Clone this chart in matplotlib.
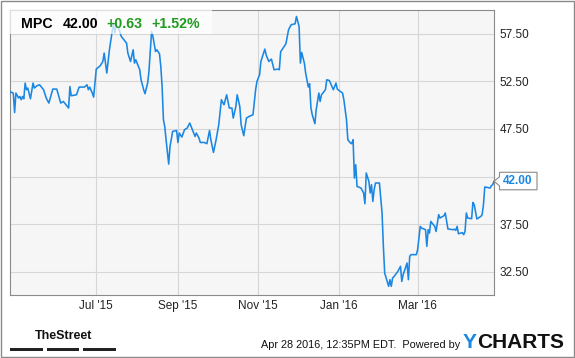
import matplotlib
matplotlib.use("Agg")
import matplotlib.pyplot as plt
import matplotlib.dates as mdates
from matplotlib.patches import Rectangle, Polygon
from matplotlib.transforms import IdentityTransform
import pandas as pd

plt.rcParams['font.family'] = ['Liberation Sans', 'DejaVu Sans']

# ---------------- data ----------------
ticker = "MPC"
last_price_text = "42.00"
change_text = "+0.63"
change_pct_text = "+1.52%"
timestamp_text = "Apr 28 2016, 12:35PM EDT.  Powered by"

dates = [
    "2015-04-27", "2015-04-29", "2015-04-30", "2015-05-01", "2015-05-03", "2015-05-04",
    "2015-05-05", "2015-05-06", "2015-05-07", "2015-05-08", "2015-05-09", "2015-05-10",
    "2015-05-12", "2015-05-14", "2015-05-15", "2015-05-17", "2015-05-19", "2015-05-22",
    "2015-05-24", "2015-05-26", "2015-05-29", "2015-06-01", "2015-06-04", "2015-06-06",
    "2015-06-08", "2015-06-10", "2015-06-11", "2015-06-12", "2015-06-16", "2015-06-18",
    "2015-06-22", "2015-06-24", "2015-06-25", "2015-06-26", "2015-06-28", "2015-06-29",
    "2015-07-01", "2015-07-04", "2015-07-06", "2015-07-07", "2015-07-09", "2015-07-11",
    "2015-07-13", "2015-07-14", "2015-07-15", "2015-07-16", "2015-07-18", "2015-07-20",
    "2015-07-22", "2015-07-24", "2015-07-25", "2015-07-27", "2015-07-29", "2015-07-30",
    "2015-07-31", "2015-08-03", "2015-08-04", "2015-08-06", "2015-08-07", "2015-08-09",
    "2015-08-10", "2015-08-12", "2015-08-13", "2015-08-15", "2015-08-16", "2015-08-18",
    "2015-08-19", "2015-08-20", "2015-08-21", "2015-08-22", "2015-08-23", "2015-08-25",
    "2015-08-26", "2015-08-28", "2015-08-31", "2015-09-01", "2015-09-02", "2015-09-04",
    "2015-09-06", "2015-09-08", "2015-09-10", "2015-09-12", "2015-09-14", "2015-09-15",
    "2015-09-17", "2015-09-18", "2015-09-21", "2015-09-23", "2015-09-25", "2015-09-26",
    "2015-09-28", "2015-09-30", "2015-10-02", "2015-10-04", "2015-10-06", "2015-10-08",
    "2015-10-10", "2015-10-12", "2015-10-13", "2015-10-15", "2015-10-16", "2015-10-18",
    "2015-10-19", "2015-10-21", "2015-10-23", "2015-10-25", "2015-10-28", "2015-10-30",
    "2015-10-31", "2015-11-02", "2015-11-03", "2015-11-05", "2015-11-06", "2015-11-07",
    "2015-11-09", "2015-11-11", "2015-11-13", "2015-11-16", "2015-11-17", "2015-11-18",
    "2015-11-19", "2015-11-22", "2015-11-24", "2015-11-26", "2015-11-29", "2015-11-30",
    "2015-12-02", "2015-12-03", "2015-12-04", "2015-12-06", "2015-12-07", "2015-12-09",
    "2015-12-10", "2015-12-11", "2015-12-12", "2015-12-14", "2015-12-15", "2015-12-17",
    "2015-12-18", "2015-12-19", "2015-12-22", "2015-12-23", "2015-12-25", "2015-12-27",
    "2015-12-28", "2015-12-30", "2015-12-31", "2016-01-04", "2016-01-05", "2016-01-07",
    "2016-01-08", "2016-01-10", "2016-01-11", "2016-01-12", "2016-01-13", "2016-01-14",
    "2016-01-15", "2016-01-18", "2016-01-20", "2016-01-21", "2016-01-22", "2016-01-24",
    "2016-01-25", "2016-01-26", "2016-01-27", "2016-01-28", "2016-01-29", "2016-02-01",
    "2016-02-03", "2016-02-04", "2016-02-05", "2016-02-08", "2016-02-09", "2016-02-10",
    "2016-02-11", "2016-02-12", "2016-02-15", "2016-02-17", "2016-02-18", "2016-02-19",
    "2016-02-22", "2016-02-23", "2016-02-24", "2016-02-25", "2016-02-29", "2016-03-01",
    "2016-03-03", "2016-03-04", "2016-03-07", "2016-03-08", "2016-03-09", "2016-03-10",
    "2016-03-11", "2016-03-14", "2016-03-15", "2016-03-17", "2016-03-18", "2016-03-21",
    "2016-03-22", "2016-03-24", "2016-03-28", "2016-03-29", "2016-03-30", "2016-03-31",
    "2016-04-01", "2016-04-04", "2016-04-05", "2016-04-06", "2016-04-07", "2016-04-08",
    "2016-04-11", "2016-04-12", "2016-04-13", "2016-04-15", "2016-04-18", "2016-04-19",
    "2016-04-20", "2016-04-21", "2016-04-22", "2016-04-25", "2016-04-26", "2016-04-27",
    "2016-04-28",
]

prices = [
    51.38, 51.27, 49.23, 51.27, 50.75, 50.91,
    50.57, 50.91, 50.67, 52.32, 51.62, 51.80,
    50.67, 52.32, 51.80, 52.04, 52.14, 51.62,
    50.75, 50.22, 51.69, 51.69, 50.22, 50.39,
    50.04, 49.70, 51.96, 50.99, 51.09, 51.90,
    51.90, 52.14, 51.62, 51.90, 51.27, 50.85,
    53.79, 54.14, 54.59, 55.47, 53.37, 55.82,
    57.74, 58.62, 57.57, 58.27, 58.10, 57.22,
    56.87, 56.52, 55.47, 54.59, 55.82, 54.42,
    54.77, 53.72, 52.67, 51.62, 51.20, 52.32,
    53.54, 57.74, 57.22, 55.64, 55.82, 55.40,
    54.07, 51.96, 48.47, 47.76, 46.37, 43.81,
    45.66, 47.24, 47.34, 46.08, 47.07, 46.65,
    47.42, 47.59, 48.12, 47.42, 46.71, 47.07,
    46.54, 46.08, 46.08, 45.95, 47.34, 46.37,
    45.03, 46.37, 47.94, 50.57, 50.04, 51.09,
    49.70, 49.70, 48.64, 49.86, 51.09, 49.86,
    47.94, 46.79, 48.64, 48.81, 48.99, 51.62,
    52.49, 53.19, 54.59, 55.47, 55.89, 55.29,
    54.59, 54.84, 53.72, 53.79, 53.72, 55.61,
    55.82, 56.45, 57.92, 58.45, 58.55, 59.32,
    58.27, 54.42, 55.54, 54.42, 53.37, 51.90,
    52.25, 49.70, 48.99, 48.05, 49.52, 51.27,
    50.39, 51.09, 51.62, 52.67, 52.59, 51.96,
    51.62, 52.32, 51.69, 51.27, 50.57, 48.47,
    46.37, 46.02, 45.95, 46.37, 42.34, 43.74,
    41.46, 41.29, 40.77, 39.64, 42.87, 41.99,
    40.77, 41.64, 39.88, 41.11, 41.82, 41.82,
    38.67, 35.16, 32.36, 30.96, 31.66, 30.96,
    31.84, 31.97, 32.53, 33.06, 31.48, 32.18,
    33.41, 31.66, 34.11, 34.29, 34.29, 34.81,
    37.26, 37.09, 36.91, 35.16, 36.91, 36.56,
    37.78, 37.26, 36.73, 38.49, 38.14, 38.38,
    38.67, 36.99, 36.91, 36.97, 36.84, 37.26,
    36.49, 36.60, 36.39, 36.73, 38.67, 38.14,
    38.07, 39.78, 39.54, 38.04, 38.31, 38.49,
    39.54, 41.40, 41.38, 41.29, 41.53, 41.64,
    42.00,
]

y_ticks = [32.5, 37.5, 42.5, 47.5, 52.5, 57.5]
y_tick_labels = ["32.50", "37.50", "", "47.50", "52.50", "57.50"]  # 42.50 is hidden behind the price tag
x_tick_dates = ["2015-07-01", "2015-09-01", "2015-11-01", "2016-01-01", "2016-03-01"]
x_tick_labels = ["Jul '15", "Sep '15", "Nov '15", "Jan '16", "Mar '16"]

# ---------------- styling ----------------
W, H = 575, 358
BLUE = '#1a87e3'
GREEN = '#1f9c1f'
FRAME = '#8a8a8a'

fig = plt.figure(figsize=(W / 100, H / 100), dpi=100)
fig.patch.set_facecolor('white')


def fx(x):
    return x / W


def fy(y):
    return 1 - y / H


ax = fig.add_axes([fx(10), fy(295), 484 / W, 285 / H])
ax.set_facecolor('#f6f6f6')

d = pd.to_datetime(dates)
ax.plot(d, prices, color=BLUE, lw=1.15, zorder=3, solid_joinstyle='round')

ax.set_xlim(pd.Timestamp('2015-04-26 12:00'), pd.Timestamp('2016-04-28'))
ax.set_ylim(30.05, 60.0)

ax.yaxis.tick_right()
ax.set_yticks(y_ticks)
ax.set_yticklabels(y_tick_labels)
ax.set_xticks(pd.to_datetime(x_tick_dates))
ax.set_xticklabels(x_tick_labels)
ax.tick_params(length=0, labelsize=8.5, colors='#222222')
ax.tick_params(axis='x', pad=3.5)
ax.tick_params(axis='y', pad=3.8)
ax.grid(True, color='#d6d6d6', lw=0.8)
ax.set_axisbelow(True)
for s in ax.spines.values():
    s.set_color(FRAME)
    s.set_linewidth(0.8)

# header box
ax.add_patch(Rectangle((0, 1 - 24.3 / 285), 202 / 484, 24.3 / 285, transform=ax.transAxes,
                       facecolor='white', alpha=0.72, edgecolor='none', zorder=4))
hy = fy(23.5)
fig.text(fx(21.5), hy, ticker, fontsize=10.2, fontweight='bold', color='black', va='center', ha='left')
fig.text(fx(63), hy, last_price_text, fontsize=10.2, fontweight='bold', color='black', va='center', ha='left')
fig.text(fx(106.5), hy, change_text, fontsize=10.2, fontweight='bold', color=GREEN, va='center', ha='left')
fig.text(fx(151.5), hy, change_pct_text, fontsize=10.2, fontweight='bold', color=GREEN, va='center', ha='left')

# last price tag on the right axis
last_xy = ax.transData.transform((mdates.date2num(d[-1]), prices[-1]))
yp = last_xy[1]
poly = Polygon([(494, yp), (499.5, yp + 4.5), (499.5, yp + 9), (537, yp + 9), (537, yp - 8.5),
                (499.5, yp - 8.5), (499.5, yp - 4.5)], closed=True, transform=IdentityTransform(),
               facecolor='white', edgecolor=FRAME, lw=0.8, zorder=5)
fig.add_artist(poly)
fig.text(fx(517.5), yp / H, last_price_text, fontsize=8.5, fontweight='bold', color=BLUE,
         va='center', ha='center', zorder=6)

# footer
fig.text(fx(63.5), fy(336), "TheStreet", fontsize=9.0, fontweight='bold',
         ha='center', va='center', color='#111111')
for x0, x1 in [(10, 42.7), (46.7, 79.3), (83.3, 116)]:
    fig.add_artist(Rectangle((fx(x0), fy(351)), (x1 - x0) / W, 3 / H, transform=fig.transFigure,
                             facecolor='#222222', edgecolor='none'))
fig.text(fx(460), fy(344.5), timestamp_text, fontsize=7.8, color='#111111', ha='right', va='center')

renderer = fig.canvas.get_renderer()
y_txt = fig.text(fx(463), fy(342), "Y", fontsize=15, fontweight='bold', color=BLUE, ha='left', va='center')
ext = y_txt.get_window_extent(renderer=renderer)
fig.text(ext.x1 / W + 0.5 / W, fy(342), "CHARTS", fontsize=15, fontweight='bold', color='#111111',
         ha='left', va='center')

# outer border
fig.add_artist(Rectangle((1, 1), 573, 356, transform=IdentityTransform(), fill=False,
                         edgecolor=FRAME, lw=1.0))

fig.savefig('out.png', dpi=100, facecolor='white')
